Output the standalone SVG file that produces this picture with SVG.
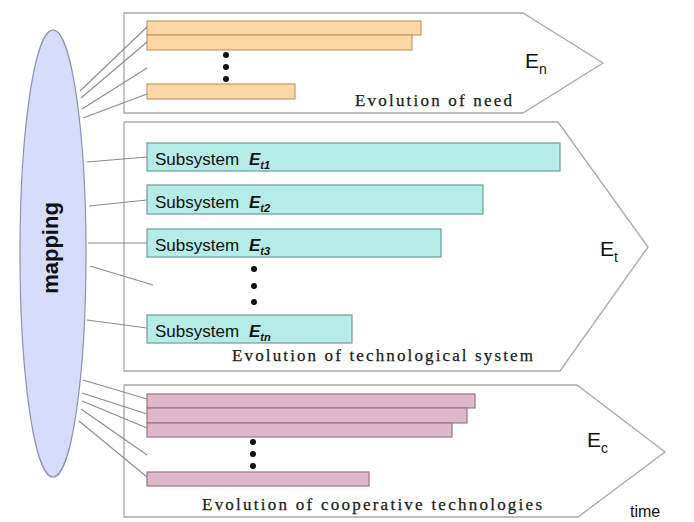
<svg xmlns="http://www.w3.org/2000/svg" width="694" height="522" viewBox="0 0 694 522">
<style>
.panel{fill:#ffffff;stroke:#a8a8a8;stroke-width:1.3}
.bar-n{fill:#fcd6a4;stroke:#c09a6a;stroke-width:1.2}
.bar-t{fill:#b6ece8;stroke:#6e9c9c;stroke-width:1.2}
.bar-c{fill:#dcb8ca;stroke:#9c7486;stroke-width:1.2}
.conn line{stroke:#8a8a8a;stroke-width:1.1}
.dot{fill:#111}
.evo{font-family:"Liberation Serif","Times New Roman",serif;font-size:17px;fill:#1a1a1a;stroke:#1a1a1a;stroke-width:0.25}
.lab{font-family:"Liberation Sans",Arial,sans-serif;fill:#111}
.sub{font-family:"Liberation Sans",Arial,sans-serif;font-size:17px;fill:#111}
.sube{font-weight:bold;font-style:italic}
</style>
<rect width="694" height="522" fill="#ffffff"/>
<g id="panel-need">
<polygon class="panel" points="124,13 523,13 603,63 523,113 124,113"/>
<rect class="bar-n" x="147" y="21" width="274" height="14"/>
<rect class="bar-n" x="147" y="35" width="265" height="15"/>
<rect class="bar-n" x="147" y="84" width="148" height="15"/>
<circle class="dot" cx="226" cy="55" r="3"/>
<circle class="dot" cx="226" cy="67" r="3"/>
<circle class="dot" cx="226" cy="79" r="3"/>
<text class="lab" x="525" y="68" font-size="21">E<tspan font-size="14" dy="6">n</tspan></text>
<text class="evo" x="355" y="106" textLength="157" lengthAdjust="spacing">Evolution of need</text>
</g>
<g id="panel-tech">
<polygon class="panel" points="124,122 558,122 648,247 560,371 124,371"/>
<rect class="bar-t" x="147" y="143" width="413" height="28"/>
<rect class="bar-t" x="147" y="185" width="336" height="29"/>
<rect class="bar-t" x="147" y="229" width="294" height="28"/>
<rect class="bar-t" x="147" y="315" width="205" height="28"/>
<text class="sub" x="155" y="165">Subsystem <tspan class="sube" x="249">E</tspan><tspan class="sube" font-size="11" dy="4">t1</tspan></text>
<text class="sub" x="155" y="208">Subsystem <tspan class="sube" x="249">E</tspan><tspan class="sube" font-size="11" dy="4">t2</tspan></text>
<text class="sub" x="155" y="251">Subsystem <tspan class="sube" x="249">E</tspan><tspan class="sube" font-size="11" dy="4">t3</tspan></text>
<text class="sub" x="155" y="337">Subsystem <tspan class="sube" x="249">E</tspan><tspan class="sube" font-size="11" dy="4">tn</tspan></text>
<circle class="dot" cx="254" cy="269" r="3"/>
<circle class="dot" cx="254" cy="286" r="3"/>
<circle class="dot" cx="254" cy="302" r="3"/>
<text class="lab" x="600" y="256" font-size="21">E<tspan font-size="14" dy="6">t</tspan></text>
<text class="evo" x="232" y="361" textLength="301" lengthAdjust="spacing">Evolution of technological system</text>
</g>
<g id="panel-coop">
<polygon class="panel" points="124,385 577,385 665,452 578,517 124,517"/>
<rect class="bar-c" x="147" y="394" width="328" height="14"/>
<rect class="bar-c" x="147" y="408" width="320" height="15"/>
<rect class="bar-c" x="147" y="423" width="305" height="14"/>
<rect class="bar-c" x="147" y="472" width="222" height="14"/>
<circle class="dot" cx="253" cy="442" r="3"/>
<circle class="dot" cx="253" cy="454" r="3"/>
<circle class="dot" cx="253" cy="466" r="3"/>
<text class="lab" x="587" y="447" font-size="21">E<tspan font-size="14" dy="6">c</tspan></text>
<text class="evo" x="202" y="510" textLength="340" lengthAdjust="spacing">Evolution of cooperative technologies</text>
</g>
<g id="connectors" class="conn">
<line x1="80" y1="91" x2="147" y2="27"/>
<line x1="81" y1="98" x2="147" y2="42"/>
<line x1="82" y1="109" x2="147" y2="68"/>
<line x1="83" y1="118" x2="147" y2="94"/>
<line x1="87" y1="162" x2="147" y2="157"/>
<line x1="89" y1="206" x2="147" y2="200"/>
<line x1="88" y1="243" x2="147" y2="243"/>
<line x1="90" y1="266" x2="153" y2="285"/>
<line x1="87" y1="320" x2="147" y2="328"/>
<line x1="83" y1="380" x2="147" y2="399"/>
<line x1="82" y1="393" x2="147" y2="414"/>
<line x1="82" y1="401" x2="147" y2="428"/>
<line x1="81" y1="409" x2="147" y2="455"/>
<line x1="79" y1="421" x2="147" y2="477"/>
</g>
<g id="mapping">
<ellipse cx="53" cy="253.5" rx="33" ry="223.5" fill="#d6dcfa" stroke="#8c92b4" stroke-width="1.2"/>
<text class="lab" font-size="22" font-weight="bold" text-anchor="middle" transform="translate(58,248) rotate(-90)">mapping</text>
</g>
<text id="time" class="lab" x="630" y="517" font-size="16">time</text>
</svg>
